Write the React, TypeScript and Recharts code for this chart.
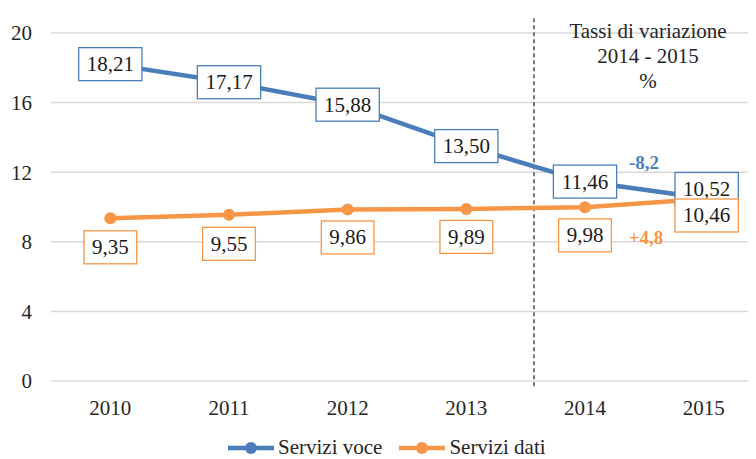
import { LineChart, Line, XAxis, YAxis, CartesianGrid, ReferenceLine, LabelList } from "recharts";

const years = [2010, 2011, 2012, 2013, 2014, 2015];
const serviziVoce = [18.21, 17.17, 15.88, 13.5, 11.46, 10.52];
const serviziDati = [9.35, 9.55, 9.86, 9.89, 9.98, 10.46];
const yTicks = [0, 4, 8, 12, 16, 20];
const titleLines = ["Tassi di variazione", "2014 - 2015", "%"];
const deltaVoce = "-8,2";
const deltaDati = "+4,8";

// label box offsets (px), per point
const voceLabelDy = [0, 0, 0, 0, 0, -9];
const datiLabelDy = [29, 29, 28, 28, 28, 16.5];
const labelDx = [0, 0, 0, 0, 0, 3];

const BLUE = "#4a7ebb";
const ORANGE = "#f79646";
const TEXT = "#262626";
const FONT = "'Liberation Serif', 'Times New Roman', serif";

const data = years.map((year, i) => ({
    year,
    voce: serviziVoce[i],
    dati: serviziDati[i],
}));

const fmt = (v: number) => v.toFixed(2).replace(".", ",");

const textWidth = (s: string, size: number) =>
    s.split("").reduce((w, c) => w + (c === "," ? 0.25 : 0.5) * size, 0);

const makeBoxLabel = (color: string, dys: number[]) => (props: any) => {
    const vb = props.viewBox || {};
    const x = props.x ?? vb.x;
    const y = props.y ?? vb.y;
    const index = props.index ?? 0;
    const text = fmt(Number(props.value));
    const w = textWidth(text, 21) + 16;
    const h = 33;
    const cx = x + labelDx[index];
    const cy = y + dys[index];
    return (
        <g>
            <rect x={cx - w / 2} y={cy - h / 2} width={w} height={h} fill="#fff" stroke={color} strokeWidth={1.3} />
            <text x={cx} y={cy} textAnchor="middle" dominantBaseline="central" fontSize={21} style={{ fontFamily: FONT }} fill="#1a1a1a">
                {text}
            </text>
        </g>
    );
};

const LegendItem = ({ color, label }: { color: string; label: string }) => (
    <div style={{ display: "flex", alignItems: "center" }}>
        <svg width={46} height={14}>
            <line x1={0} y1={7} x2={46} y2={7} stroke={color} strokeWidth={4.5} />
            <circle cx={23} cy={7} r={6} fill={color} />
        </svg>
        <span style={{ marginLeft: 4 }}>{label}</span>
    </div>
);

const App = () => {
    return (
        <div
            className="chart-wrap"
            style={{
                position: "relative",
                width: 756,
                height: 459,
                overflow: "hidden",
                margin: "-8px 0 0 -8px",
                background: "#fff",
                fontFamily: FONT,
                color: TEXT,
            }}
        >
            <style>{`.chart-wrap svg text { font-family: ${FONT} !important; }`}</style>
            <LineChart width={770} height={459} data={data} margin={{ top: 33, right: 7, bottom: 0, left: 11 }}>
                <CartesianGrid vertical={false} stroke="#d9d9d9" strokeWidth={1.5} />
                <XAxis
                    dataKey="year"
                    type="number"
                    domain={[2009.5, 2015.5]}
                    ticks={years}
                    axisLine={false}
                    tickLine={false}
                    tickMargin={13}
                    height={78}
                    tick={{ fontSize: 21, fill: TEXT }}
                />
                <YAxis
                    domain={[0, 20]}
                    ticks={yTicks}
                    axisLine={false}
                    tickLine={false}
                    tickMargin={13}
                    width={40}
                    tick={{ fontSize: 21, fill: TEXT }}
                />
                <ReferenceLine
                    segment={[
                        { x: 2013.57, y: -0.3 },
                        { x: 2013.57, y: 21 },
                    ]}
                    stroke="#333"
                    strokeWidth={1.3}
                    strokeDasharray="4 3"
                    ifOverflow="visible"
                />
                <Line
                    type="linear"
                    dataKey="voce"
                    stroke={BLUE}
                    strokeWidth={4.5}
                    dot={{ r: 6, fill: BLUE, strokeWidth: 0 }}
                    activeDot={false}
                    isAnimationActive={false}
                >
                    <LabelList dataKey="voce" content={makeBoxLabel(BLUE, voceLabelDy)} />
                </Line>
                <Line
                    type="linear"
                    dataKey="dati"
                    stroke={ORANGE}
                    strokeWidth={4.5}
                    dot={{ r: 6, fill: ORANGE, strokeWidth: 0 }}
                    activeDot={false}
                    isAnimationActive={false}
                >
                    <LabelList dataKey="dati" content={makeBoxLabel(ORANGE, datiLabelDy)} />
                </Line>
            </LineChart>

            <div
                style={{
                    position: "absolute",
                    left: 548,
                    top: 19,
                    width: 200,
                    textAlign: "center",
                    fontSize: 21,
                    lineHeight: "25px",
                }}
            >
                {titleLines.map((t) => (
                    <div key={t}>{t}</div>
                ))}
            </div>

            <div style={{ position: "absolute", left: 604, top: 151, width: 80, textAlign: "center", fontSize: 19, fontWeight: "bold", color: BLUE, lineHeight: "24px" }}>
                {deltaVoce}
            </div>
            <div style={{ position: "absolute", left: 606, top: 226, width: 80, textAlign: "center", fontSize: 19, fontWeight: "bold", color: ORANGE, lineHeight: "24px" }}>
                {deltaDati}
            </div>

            <div
                style={{
                    position: "absolute",
                    left: 228,
                    top: 437,
                    display: "flex",
                    gap: 17,
                    fontSize: 21,
                    lineHeight: "21px",
                }}
            >
                <LegendItem color={BLUE} label="Servizi voce" />
                <LegendItem color={ORANGE} label="Servizi dati" />
            </div>
        </div>
    );
};

export default App;
